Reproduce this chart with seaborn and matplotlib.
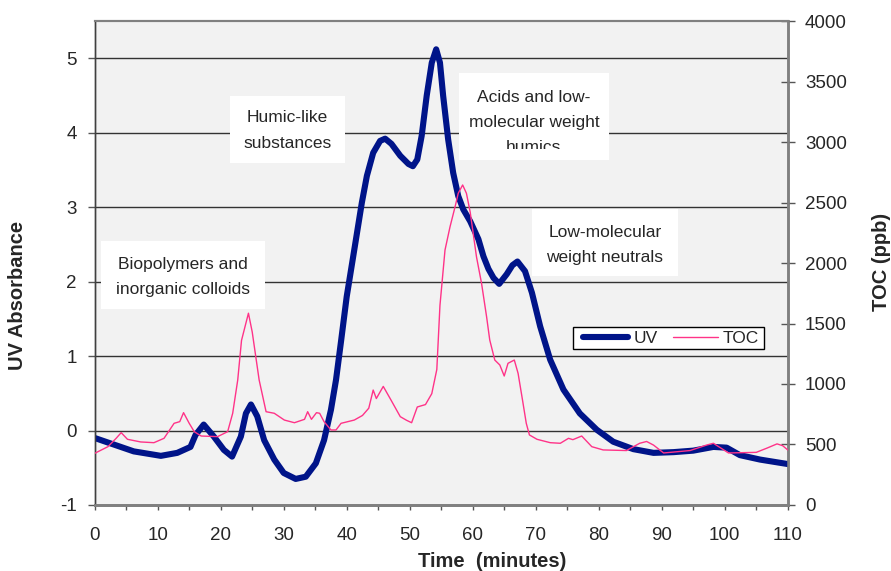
import numpy as np
import matplotlib
matplotlib.use("Agg")
import matplotlib.pyplot as plt
from matplotlib.patches import Rectangle
from matplotlib.lines import Line2D
from matplotlib.transforms import Bbox, TransformedBbox
import seaborn as sns

# UV absorbance trace (time in minutes)
uv_time = [0, 3.1, 6.2, 10.5, 13.1, 15.2, 16.0, 17.3, 18.9, 20.5, 21.8, 23.2, 24.0,
           24.8, 25.8, 26.9, 28.5, 30.0, 31.9, 33.5, 35.1, 36.4, 37.5, 38.3, 39.1,
           40.0, 41.3, 42.4, 43.2, 44.2, 45.3, 46.1, 47.1, 48.5, 49.8, 50.5, 51.2,
           51.9, 52.7, 53.5, 54.2, 54.8, 55.3, 56.1, 56.9, 57.7, 58.5, 59.6, 60.9,
           61.7, 62.5, 63.3, 64.2, 65.4, 66.3, 67.1, 68.3, 69.4, 70.7, 72.3, 74.4,
           77.0, 79.7, 82.3, 85.5, 88.7, 91.9, 95.0, 98.2, 100.3, 102.4, 105.6, 110]
uv_value = [-0.10, -0.19, -0.28, -0.34, -0.30, -0.22, -0.06, 0.08, -0.08, -0.26,
            -0.35, -0.08, 0.23, 0.35, 0.19, -0.13, -0.39, -0.57, -0.65, -0.62, -0.44,
            -0.13, 0.28, 0.68, 1.20, 1.80, 2.48, 3.06, 3.42, 3.73, 3.89, 3.92, 3.85,
            3.69, 3.58, 3.55, 3.64, 3.96, 4.50, 4.94, 5.12, 4.94, 4.50, 3.91, 3.46,
            3.15, 2.97, 2.81, 2.57, 2.34, 2.17, 2.05, 1.97, 2.10, 2.22, 2.27, 2.14,
            1.85, 1.40, 0.95, 0.55, 0.23, 0.01, -0.15, -0.25, -0.30, -0.29, -0.27,
            -0.22, -0.23, -0.33, -0.39, -0.45]

# TOC trace (ppb)
toc_time = [0, 2.1, 3.4, 4.2, 5.2, 7.3, 9.4, 11.0, 12.6, 13.5, 14.1, 15.0, 15.8,
            16.9, 19.5, 21.1, 21.9, 22.7, 23.3, 24.4, 25.0, 26.1, 27.2, 28.5, 30.1,
            31.7, 33.3, 33.8, 34.4, 35.2, 35.7, 36.4, 37.5, 38.3, 39.1, 41.2, 42.5,
            43.5, 44.2, 44.7, 45.8, 47.0, 48.5, 49.5, 50.3, 51.2, 52.5, 53.5, 54.3,
            54.8, 55.6, 56.4, 57.2, 57.7, 58.4, 59.0, 59.6, 60.6, 61.4, 62.2, 62.7,
            63.5, 64.3, 65.0, 65.6, 66.6, 67.2, 67.9, 68.5, 69.0, 70.2, 72.3, 73.9,
            75.2, 75.9, 77.3, 78.9, 80.7, 84.4, 86.5, 87.6, 88.7, 90.3, 94.5, 97.1,
            98.2, 100.6, 105.0, 106.7, 108.3, 109.2, 110]
toc_value = [427, 482, 551, 598, 543, 521, 515, 551, 675, 689, 763, 675, 606, 570,
             565, 606, 758, 1033, 1360, 1585, 1430, 1033, 771, 758, 702, 680, 708,
             771, 708, 763, 758, 689, 620, 620, 675, 702, 740, 800, 950, 880, 980,
             870, 730, 700, 680, 810, 830, 920, 1120, 1650, 2107, 2300, 2465, 2576,
             2645, 2576, 2420, 2050, 1832, 1556, 1364, 1198, 1157, 1066, 1171, 1198,
             1088, 868, 675, 579, 543, 515, 510, 551, 540, 570, 482, 455, 450, 510,
             525, 495, 430, 450, 495, 510, 430, 435, 470, 505, 490, 455]

x_ticks = list(range(0, 111, 10))
uv_ticks = [-1, 0, 1, 2, 3, 4, 5]
toc_ticks = list(range(0, 4001, 500))

uv_color = "#001489"
toc_color = "#ff3388"

sns.set_style("ticks")
plt.rcParams["font.family"] = ["Liberation Sans", "DejaVu Sans"]
plt.rcParams["axes.unicode_minus"] = False

fig = plt.figure(figsize=(8.91, 5.71), dpi=100)
ax = fig.add_axes([0.1063, 0.1156, 0.7778, 0.8476])
ax2 = ax.twinx()
ax.set_facecolor("#f2f2f2")
ax2.patch.set_visible(False)

sns.lineplot(x=uv_time, y=uv_value, ax=ax, color=uv_color, lw=4.4,
             solid_capstyle="round", solid_joinstyle="round", zorder=4)
sns.lineplot(x=toc_time, y=toc_value, ax=ax2, color=toc_color, lw=1.0, zorder=4)

ax.set_xlim(0, 110)
ax.set_ylim(-1, 5.5)
ax2.set_ylim(0, 4000)
ax.set_xticks(x_ticks)
ax.set_xticks(np.arange(5, 110, 10), minor=True)
ax.set_yticks(uv_ticks)
ax2.set_yticks(toc_ticks)

for y in uv_ticks[1:]:
    ax.axhline(y, color="#333333", lw=1.0, zorder=1)

ax.tick_params(axis="x", which="both", direction="out", length=3.6, width=1,
               color="#555555", pad=12.5, labelsize=13.5)
ax.tick_params(axis="y", direction="out", length=4.8, width=1, color="#555555",
               pad=8, labelsize=13.5)
ax2.tick_params(axis="y", direction="inout", length=10, width=1, color="#555555",
                pad=7.5, labelsize=13.5)

for a in (ax, ax2):
    for s in a.spines.values():
        s.set_visible(True)
    a.spines["left"].set_color("#404040")
    a.spines["left"].set_linewidth(1.0)
    a.spines["bottom"].set_color("#808080")
    a.spines["bottom"].set_linewidth(2.0)
    a.spines["right"].set_color("#808080")
    a.spines["right"].set_linewidth(1.8)
    a.spines["top"].set_color("#808080")
    a.spines["top"].set_linewidth(1.5)

ax.set_xlabel("Time  (minutes)", fontsize=14.5, fontweight="bold")
ax.xaxis.set_label_coords(0.573, -0.097)
ax.set_ylabel("UV Absorbance", fontsize=14.5, fontweight="bold")
ax.yaxis.set_label_coords(-0.0977, 0.432)
ax2.set_ylabel("TOC (ppb)", fontsize=14.5, fontweight="bold")
ax2.yaxis.set_label_coords(1.121, 0.502)

# annotation boxes
notes = [
    ((1.0, 1.63, 26.1, 0.91), (14.05, 2.06), "Biopolymers and\ninorganic colloids", None),
    ((21.5, 3.59, 18.2, 0.90), (30.6, 4.03), "Humic-like\nsubstances", None),
    ((57.8, 3.63, 23.8, 1.17), (69.7, 4.14), "Acids and low-\nmolecular weight\nhumics", 3.785),
    ((69.4, 2.07, 23.2, 0.91), (81.0, 2.49), "Low-molecular\nweight neutrals", None),
]
for (bx, by, bw, bh), (tx, ty), label, clip_y in notes:
    ax.add_patch(Rectangle((bx, by), bw, bh, facecolor="white", edgecolor="none",
                           zorder=3))
    t = ax.text(tx, ty, label, ha="center", va="center", fontsize=12.5,
                linespacing=1.85, zorder=3.5)
    if clip_y is not None:
        t.set_clip_on(True)
        t.set_clip_box(TransformedBbox(Bbox([[bx, clip_y], [bx + bw, by + bh]]),
                                       ax.transData))

# legend with a hand-placed frame
ax2.add_patch(Rectangle((0.6906, 0.3217), 0.2752, 0.0467, transform=ax2.transAxes,
                        facecolor="white", edgecolor="black", lw=1.0, zorder=5))
handles = [Line2D([], [], color=uv_color, lw=4.4, solid_capstyle="round"),
           Line2D([], [], color=toc_color, lw=1.0)]
leg = ax2.legend(handles, ["UV", "TOC"], loc="center left",
                 bbox_to_anchor=(0.705, 0.345), ncol=2, fontsize=12.5,
                 frameon=False, borderpad=0, handlelength=2.6, handletextpad=0.3,
                 columnspacing=0.85, borderaxespad=0)
leg.set_zorder(6)

fig.savefig("out.png", dpi=100, facecolor="white")
